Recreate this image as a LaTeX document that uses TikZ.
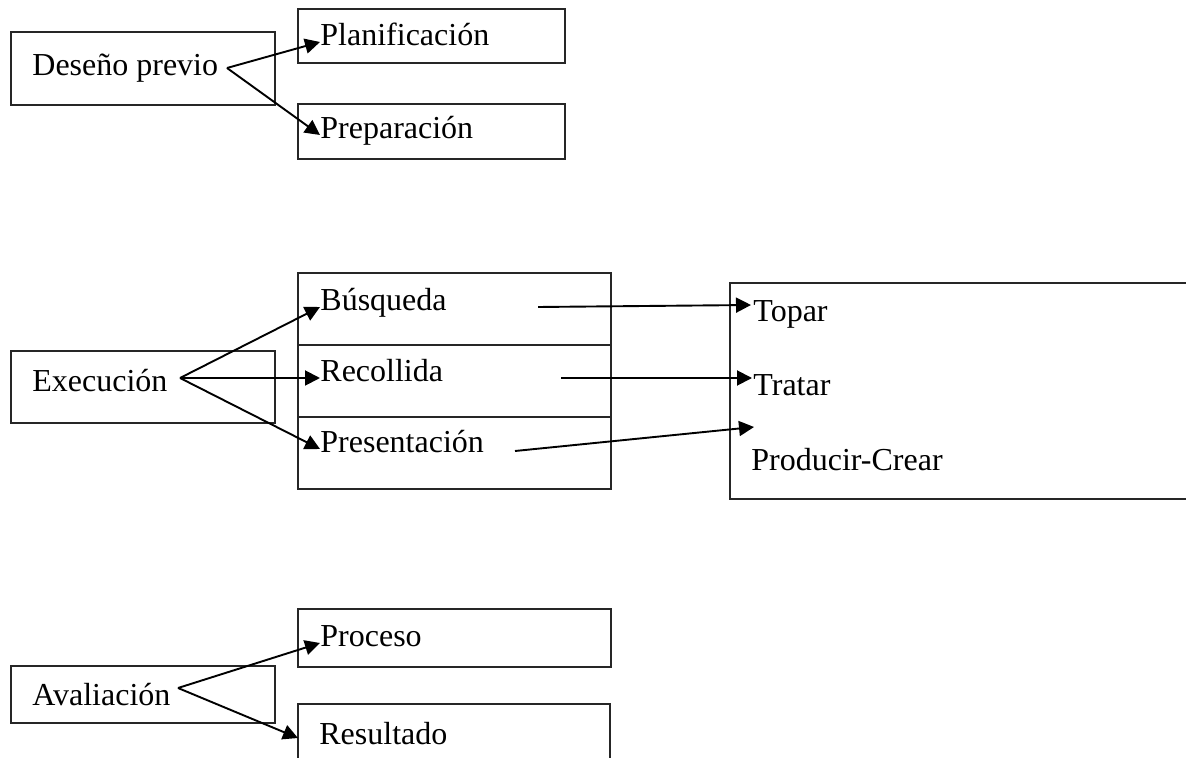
\documentclass[tikz,border=0pt]{standalone}
\usepackage{fontspec}
\setmainfont{Liberation Serif}
\usetikzlibrary{arrows.meta}
\begin{document}
\begin{tikzpicture}[x=0.5pt,y=-0.5pt,
    every node/.style={font=\fontsize{16}{19}\selectfont,inner sep=0pt,
      text height=0.625em,text depth=0.25em},
    frame/.style={draw=black!85,line width=0.6pt},
    link/.style={line width=0.95pt,-{Triangle[length=7.5pt,width=7.5pt]}}]
  \useasboundingbox (0,0) rectangle (1186,758);
  % boxes
  \draw[frame] (11,32) rectangle (275,105);
  \draw[frame] (298,9) rectangle (565,63);
  \draw[frame] (298,104) rectangle (565,159);
  \draw[frame] (11,351) rectangle (275,423);
  \draw[frame] (298,273) rectangle (611,489);
  \draw[frame] (298,345) -- (611,345);
  \draw[frame] (298,417) -- (611,417);
  \draw[frame] (1186,283) -- (730,283) -- (730,499) -- (1186,499);
  \draw[frame] (11,666) rectangle (275,723);
  \draw[frame] (298,609) rectangle (611,667);
  \draw[frame] (298,758) -- (298,704) -- (610,704) -- (610,758);
  % labels
  \draw
    (32,76) node[anchor=base west] (deseno){Deseño previo}
    (320,42) node[anchor=west] (plan){Planificación}
    (320,135) node[anchor=west] (prep){Preparación}
    (32,392) node[anchor=base west] (exec){Execución}
    (320,307) node[anchor=west] (busca){Búsqueda}
    (320,378) node[anchor=west] (recolle){Recollida}
    (320,449) node[anchor=west] (presenta){Presentación}
    (753,322) node[anchor=base west] (topar){Topar}
    (753,395) node[anchor=base west] (tratar){Tratar}
    (751,470) node[anchor=base west] (produce){Producir-Crear}
    (32,705) node[anchor=base west] (avalia){Avaliación}
    (320,643) node[anchor=west] (proceso){Proceso}
    (319,744) node[anchor=base west] (result){Resultado};
  % arrow ends
  \coordinate (deseno-o) at (227,68);
  \coordinate (exec-o) at (180,378);
  \coordinate (avalia-o) at (178,688);
  \coordinate (busca-o) at (538,307);
  \coordinate (recolle-o) at (561,378);
  \coordinate (presenta-o) at (515,451);
  \coordinate (topar-i) at (751,305);
  \coordinate (tratar-i) at (752,378);
  \coordinate (produce-i) at (754,427);
  \coordinate (result-i) at (298,738);
  \begin{scope}[link]
    \draw (deseno-o) to (plan.west);
    \draw (deseno-o) to (prep.west);
    \draw (exec-o) to (busca.west);
    \draw (exec-o) to (recolle.west);
    \draw (exec-o) to (presenta.west);
    \draw (busca-o) to (topar-i);
    \draw (recolle-o) to (tratar-i);
    \draw (presenta-o) to (produce-i);
    \draw (avalia-o) to (proceso.west);
    \draw (avalia-o) to (result-i);
  \end{scope}
\end{tikzpicture}
\end{document}
